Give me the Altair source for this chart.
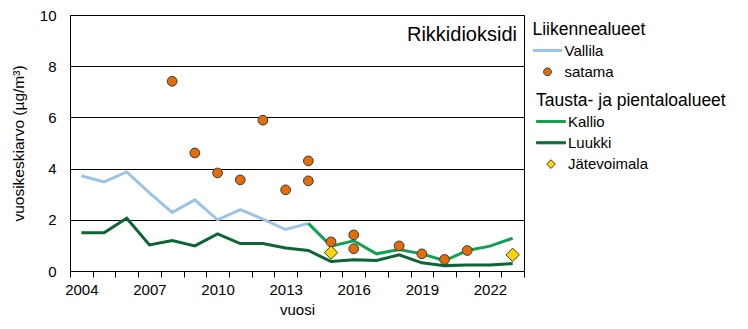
import altair as alt
import pandas as pd

# ---------------- data ----------------
years = list(range(2004, 2024))
tick_label_years = [2004, 2007, 2010, 2013, 2016, 2019, 2022]

vallila_years = list(range(2004, 2015))
vallila = [3.72, 3.48, 3.87, 3.05, 2.29, 2.78, 2.00, 2.40, 2.03, 1.62, 1.86]

kallio_years = list(range(2014, 2024))
kallio = [1.86, 0.97, 1.18, 0.67, 0.84, 0.67, 0.40, 0.80, 0.97, 1.28]

luukki_years = list(range(2004, 2024))
luukki = [1.49, 1.49, 2.06, 1.02, 1.19, 0.98, 1.45, 1.07, 1.07, 0.90,
          0.80, 0.37, 0.44, 0.41, 0.63, 0.32, 0.21, 0.23, 0.23, 0.29]

satama_years = [2008, 2009, 2010, 2011, 2012, 2013, 2014, 2014, 2015,
                2016, 2016, 2018, 2019, 2020, 2021]
satama = [7.41, 4.61, 3.83, 3.56, 5.89, 3.17, 4.30, 3.52, 1.14,
          1.41, 0.87, 0.98, 0.67, 0.45, 0.80]

jate_years = [2015, 2023]
jate = [0.72, 0.63]

group_a = ["Vallila", "satama"]
group_b = ["Kallio", "Luukki", "Jätevoimala"]

# ---------------- styles ----------------
BLUE = "#9DC3E6"
ORANGE = "#E46C0A"
GREEN = "#12A052"
DKGREEN = "#0B6633"
YELLOW = "#FFD700"
EDGE = "#3A3A3A"
FONT = "Liberation Sans"

df_a = pd.DataFrame({"year": vallila_years, "value": vallila, "series": "Vallila"})
df_b = pd.concat([
    pd.DataFrame({"year": kallio_years, "value": kallio, "series": "Kallio"}),
    pd.DataFrame({"year": luukki_years, "value": luukki, "series": "Luukki"}),
])
df_sat = pd.DataFrame({"year": satama_years, "value": satama})
df_jat = pd.DataFrame({"year": jate_years, "value": jate})

label_test = " || ".join(f"datum.value == {y}" for y in tick_label_years)

x_enc = alt.X(
    "year:O",
    scale=alt.Scale(type="band", domain=years, paddingInner=0, paddingOuter=0),
    axis=alt.Axis(
        title="vuosi", tickBand="extent", labelAngle=0,
        labelExpr=f"({label_test}) ? datum.label : ''",
        ticks=True, tickSize=6, tickColor="black", domainColor="black",
        labelPadding=5, titlePadding=5, grid=False,
        labelFontSize=15, titleFontSize=15,
    ),
)
y_enc = alt.Y(
    "value:Q",
    scale=alt.Scale(domain=[0, 10], nice=False),
    axis=alt.Axis(
        title="vuosikeskiarvo (µg/m³)", values=[0, 2, 4, 6, 8, 10],
        grid=True, gridColor="black", gridOpacity=1, gridWidth=1,
        ticks=False, domainColor="black", labelPadding=14, titlePadding=13,
        labelFontSize=15, titleFontSize=15.5,
    ),
)

LINE_PATH = "M-1,-0.07L1,-0.07L1,0.07L-1,0.07Z"
CIRCLE_PATH = "M-0.27,0A0.27,0.27,0,1,0,0.27,0A0.27,0.27,0,1,0,-0.27,0Z"
DIAMOND_PATH = "M-0.3,0L0,-0.3L0.3,0L0,0.3Z"

legend_common = dict(
    orient="none", padding=0, symbolSize=841, symbolStrokeWidth=1,
    clipHeight=16, rowPadding=5.3, labelOffset=2, titlePadding=4.5,
    titleFontWeight="normal", titleFontSize=17.5, labelFontSize=15,
    symbolOpacity=1, titleLimit=260, labelLimit=200,
)

legend_a = alt.Legend(
    title="Liikennealueet", legendX=462.5, legendY=5.5,
    symbolType=alt.ExprRef(expr=f"datum.value === 'satama' ? '{CIRCLE_PATH}' : '{LINE_PATH}'"),
    symbolFillColor=alt.ExprRef(expr=f"datum.value === 'satama' ? '{ORANGE}' : '{BLUE}'"),
    **legend_common,
)
legend_b = alt.Legend(
    title="Tausta- ja pientaloalueet", legendX=466, legendY=76.5,
    symbolType=alt.ExprRef(expr=f"datum.value === 'Jätevoimala' ? '{DIAMOND_PATH}' : '{LINE_PATH}'"),
    symbolFillColor=alt.ExprRef(
        expr=f"datum.value === 'Jätevoimala' ? '{YELLOW}' : (datum.value === 'Luukki' ? '{DKGREEN}' : '{GREEN}')"),
    **legend_common,
)

line_a = alt.Chart(df_a).mark_line(strokeWidth=3).encode(
    x=x_enc, y=y_enc,
    color=alt.Color("series:N", scale=alt.Scale(domain=group_a, range=[BLUE, EDGE]), legend=legend_a),
)
line_b = alt.Chart(df_b).mark_line(strokeWidth=3).encode(
    x=x_enc, y=y_enc,
    stroke=alt.Stroke("series:N", scale=alt.Scale(domain=group_b, range=[GREEN, DKGREEN, EDGE]), legend=legend_b),
)
pts_sat = alt.Chart(df_sat).mark_point(
    shape="circle", filled=True, fill=ORANGE, stroke=EDGE, strokeWidth=1, size=95, opacity=1
).encode(x=x_enc, y=y_enc)
pts_jat = alt.Chart(df_jat).mark_point(
    shape="diamond", filled=True, fill=YELLOW, stroke=EDGE, strokeWidth=1, size=180, opacity=1
).encode(x=x_enc, y=y_enc)

label = alt.Chart(pd.DataFrame({"t": ["Rikkidioksidi"]})).mark_text(
    align="right", baseline="alphabetic", fontSize=20, font=FONT, color="black"
).encode(text="t:N", x=alt.value(447), y=alt.value(26))

chart = alt.layer(line_a, line_b, pts_sat, pts_jat, label).properties(
    width=454, height=256,
    background="white",
    autosize=alt.AutoSizeParams(type="none"),
    padding={"left": 70, "top": 15, "right": 224, "bottom": 58},
).configure_view(
    stroke="black", strokeWidth=1
).configure_axis(
    labelFont=FONT, titleFont=FONT,
    labelColor="black", titleColor="black", titleFontWeight="normal",
).configure_legend(
    labelFont=FONT, titleFont=FONT, labelColor="black", titleColor="black",
)

chart.save("out.html", embed_options={"renderer": "svg", "actions": False})
